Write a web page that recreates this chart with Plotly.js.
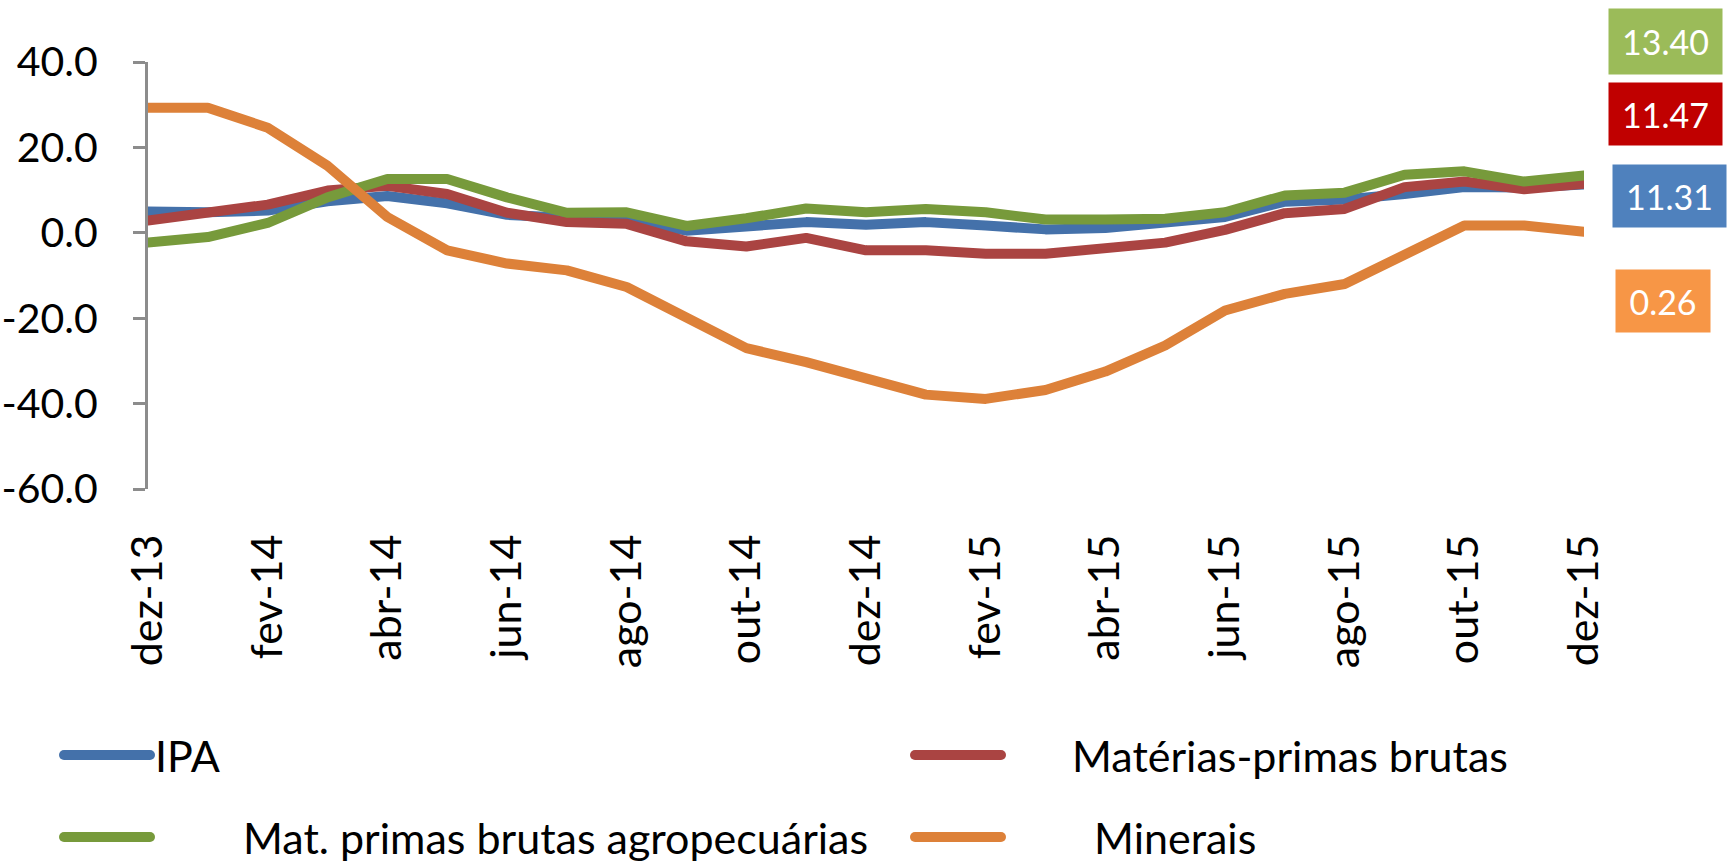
<!DOCTYPE html>
<html>
<head>
<meta charset="utf-8">
<script src="https://cdn.plot.ly/plotly-3.0.1.min.js"></script>
<style>
  html, body { margin: 0; padding: 0; background: #fff; }
  #chart { width: 1735px; height: 863px; }
  .scatterlayer path.js-line { stroke-linejoin: round; stroke-linecap: round; }
  .legendlines path.js-line { stroke-linecap: round; }
</style>
</head>
<body>
<div id="chart"></div>
<script>
// ---- data ----
const months = ["dez-13","jan-14","fev-14","mar-14","abr-14","mai-14","jun-14","jul-14","ago-14","set-14","out-14","nov-14",
                "dez-14","jan-15","fev-15","mar-15","abr-15","mai-15","jun-15","jul-15","ago-15","set-15","out-15","nov-15","dez-15"];
const ipa       = [5.0, 4.8, 5.2, 7.4, 8.6, 6.9, 4.2, 3.4, 2.9, 0.5, 1.5, 2.5, 1.9, 2.5, 1.7, 0.8, 1.1, 2.5, 3.7, 7.3, 7.8, 9.1, 10.7, 10.6, 11.31];
const materias  = [2.9, 5.0, 6.6, 9.9, 11.0, 9.1, 4.7, 2.5, 2.1, -2.0, -3.2, -1.2, -4.1, -4.1, -4.9, -4.9, -3.75, -2.3, 0.7, 4.6, 5.6, 10.7, 12.0, 10.2, 11.47];
const agro      = [-2.3, -1.0, 2.3, 8.3, 12.6, 12.6, 8.3, 4.7, 4.8, 1.6, 3.4, 5.7, 4.8, 5.6, 4.8, 3.1, 3.1, 3.3, 4.8, 8.75, 9.4, 13.6, 14.4, 12.0, 13.40];
const minerais  = [29.3, 29.3, 24.6, 15.7, 3.7, -4.1, -7.2, -8.8, -12.7, -19.7, -27.0, -30.3, -34.0, -37.9, -38.9, -36.8, -32.5, -26.4, -18.2, -14.3, -12.0, -5.3, 1.7, 1.7, 0.26];
const seriesNames = ["IPA", "Matérias-primas brutas", "Mat. primas brutas agropecuárias", "Minerais"];
const yTickVals = [-60, -40, -20, 0, 20, 40];
const yTickText = yTickVals.map(v => v.toFixed(1));

// ---- styling ----
const lineColors = ["#4471AA", "#AA4442", "#779A3B", "#DD8139"];
const boxColors  = ["#4F81BD", "#C00000", "#9BBB59", "#F79646"];
const FONT = "Lato, 'Open Sans', sans-serif";
const axisGray = "#8c8c8c";
const pad = n => "\u00A0".repeat(n);

const values = [ipa, materias, agro, minerais];
const legendIds = ["legend", "legend2", "legend3", "legend4"];
const namePad = [0, 6, 8, 8];

const traces = values.map((v, i) => ({
  type: "scatter", mode: "lines",
  x: months, y: v,
  name: pad(namePad[i]) + seriesNames[i],
  legend: legendIds[i],
  line: { color: lineColors[i], width: 10 },
  hoverinfo: "skip"
}));

// end-value boxes (placed in paper space at the right of the plot)
const boxPos = [
  { x: 1.0595, y: 0.6854, w: 105, h: 54 },  // IPA
  { x: 1.0568, y: 0.8772, w: 105, h: 54 },  // Matérias
  { x: 1.0568, y: 1.0491, w: 105, h: 57 },  // agro
  { x: 1.0550, y: 0.4398, w: 86,  h: 54 }   // Minerais
];
const annotations = values.map((v, i) => ({
  xref: "paper", yref: "paper",
  x: boxPos[i].x, y: boxPos[i].y, xanchor: "center", yanchor: "middle",
  text: v[v.length - 1].toFixed(2),
  showarrow: false,
  font: { family: FONT, size: 34, color: "#ffffff" },
  bgcolor: boxColors[i],
  width: boxPos[i].w, height: boxPos[i].h, borderpad: 4
}));

const legendCommon = {
  orientation: "h", xanchor: "left", yanchor: "middle",
  xref: "container", yref: "container",
  font: { family: FONT, size: 43, color: "#000" },
  bgcolor: "rgba(0,0,0,0)",
  itemwidth: 86
};
const legendPos = [
  { x: 59 / 1735,  y: 1 - 755 / 863 },
  { x: 910 / 1735, y: 1 - 755 / 863 },
  { x: 59 / 1735,  y: 1 - 837 / 863 },
  { x: 910 / 1735, y: 1 - 837 / 863 }
];

const layout = {
  width: 1735, height: 863,
  margin: { l: 148, r: 151, t: 61.5, b: 374, pad: 0, autoexpand: false },
  paper_bgcolor: "#fff", plot_bgcolor: "#fff",
  showlegend: true,
  xaxis: {
    type: "category", range: [0, 24], dtick: 2, tick0: 0,
    showline: false, showgrid: false, zeroline: false, ticks: "",
    tickangle: -90, ticklabelstandoff: 36,
    tickfont: { family: FONT, size: 43, color: "#000" }
  },
  xaxis2: {
    overlaying: "x", anchor: "free", position: 0.6, type: "linear",
    range: [0, 24], dtick: 2, tick0: 0,
    showline: true, linecolor: axisGray, linewidth: 3,
    ticks: "outside", ticklen: 16, tickwidth: 3, tickcolor: axisGray,
    showticklabels: false, showgrid: false, zeroline: false, layer: "below traces"
  },
  yaxis: {
    range: [-60, 40], tickmode: "array", tickvals: yTickVals, ticktext: yTickText,
    showline: true, linecolor: axisGray, linewidth: 3,
    ticks: "outside", ticklen: 12, tickwidth: 3, tickcolor: axisGray,
    showgrid: false, zeroline: false, layer: "below traces",
    ticklabelstandoff: 27,
    tickfont: { family: FONT, size: 41, color: "#000" }
  },
  annotations: annotations
};
legendIds.forEach((id, i) => {
  layout[id] = Object.assign({}, legendCommon, legendPos[i]);
});

Plotly.newPlot("chart", traces, layout, { staticPlot: true, displayModeBar: false });
</script>
</body>
</html>
